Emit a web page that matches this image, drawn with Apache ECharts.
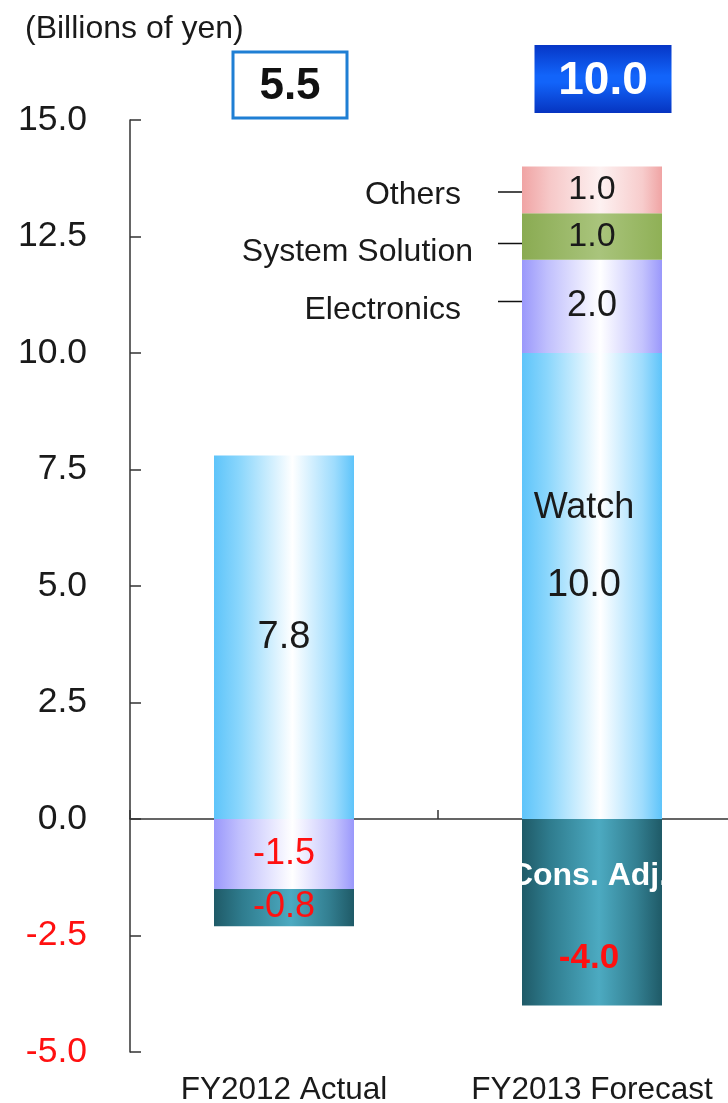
<!DOCTYPE html>
<html>
<head>
<meta charset="utf-8">
<script src="https://cdn.jsdelivr.net/npm/echarts@6/dist/echarts.min.js"></script>
<style>
  html, body { margin: 0; padding: 0; background: #ffffff; }
  #chart { width: 728px; height: 1103px; }
</style>
</head>
<body>
<div id="chart"></div>
<script>
// Operating income by segment (billions of yen)
const categories = ['FY2012 Actual', 'FY2013 Forecast'];
const watch = [7.8, 10.0];
const electronics = [-1.5, 2.0];
const systemSolution = [null, 1.0];
const others = [null, 1.0];
const consAdj = [-0.8, -4.0];

const yMin = -5, yMax = 15, yStep = 2.5;
const unitTitle = '(Billions of yen)';

const FONT = '"Liberation Sans", Arial, Helvetica, sans-serif';
const INK = '#1a1a1a';
const RED = '#ff1010';

const fmt = v => Number(v).toFixed(1);
const hGrad = stops => new echarts.graphic.LinearGradient(0, 0, 1, 0,
  stops.map(([offset, color]) => ({ offset, color })));

// value label: black for positive, red for negative
const valueLabel = size => ({
  show: true,
  position: 'inside',
  fontFamily: FONT,
  formatter: p => (p.value < 0 ? '{neg|' : '{pos|') + fmt(p.value) + '}',
  rich: {
    pos: { color: INK, fontSize: size, fontFamily: FONT },
    neg: { color: RED, fontSize: size, fontFamily: FONT }
  }
});

const chart = echarts.init(document.getElementById('chart'), null, { renderer: 'canvas' });

const barW = 140;

const watchData = watch.map((v, i) => i === 1
  ? { value: v, label: { offset: [-8, -39],
      formatter: p => '{n|Watch}\n{v|' + fmt(p.value) + '}' } }
  : v);

const consData = consAdj.map((v, i) => i === 1
  ? { value: v, label: { offset: [-3, 5],
      formatter: p => '{n|Cons. Adj.}\n{b|' + fmt(p.value) + '}' } }
  : v);

const option = {
  animation: false,
  backgroundColor: '#ffffff',
  title: {
    text: unitTitle,
    left: 20, top: 8,
    textStyle: { fontFamily: FONT, fontSize: 32, fontWeight: 'normal', color: INK }
  },
  grid: { left: 130, top: 120, width: 616, height: 932, containLabel: false, outerBoundsMode: 'none' },
  xAxis: [
    {
      type: 'category', data: categories, position: 'bottom',
      axisLine: { show: false, onZero: false },
      axisTick: { show: false },
      axisLabel: { interval: 0, fontFamily: FONT, fontSize: 31.5, color: INK, margin: 22, hideOverlap: false }
    },
    {
      type: 'category', data: categories, position: 'bottom',
      axisLine: { show: true, onZero: true, lineStyle: { color: '#333', width: 1.5 } },
      axisTick: { show: true, inside: true, length: 9, lineStyle: { color: '#333', width: 1.5 } },
      axisLabel: { show: false }
    }
  ],
  yAxis: {
    type: 'value', min: yMin, max: yMax, interval: yStep,
    axisLine: { show: true, lineStyle: { color: '#333', width: 1.5 } },
    axisTick: { show: true, inside: true, length: 11, lineStyle: { color: '#333', width: 1.5 } },
    splitLine: { show: false },
    axisLabel: {
      margin: 43, fontFamily: FONT, fontSize: 35.5,
      padding: [6, 0, 0, 0],
      color: v => (v < 0 ? RED : INK),
      formatter: v => fmt(v)
    }
  },
  series: [
    {
      name: 'Watch', type: 'bar', stack: 'total', barWidth: barW,
      itemStyle: { color: hGrad([[0, '#5ec4fa'], [0.18, '#8ad6fc'], [0.56, '#ffffff'], [0.86, '#9edcfd'], [1, '#5ec4fa']]) },
      label: {
        show: true, position: 'inside', fontFamily: FONT, fontSize: 38, color: INK,
        formatter: p => fmt(p.value),
        rich: {
          n: { fontFamily: FONT, fontSize: 36, color: INK, lineHeight: 78 },
          v: { fontFamily: FONT, fontSize: 38, color: INK, lineHeight: 78 }
        }
      },
      data: watchData
    },
    {
      name: 'Electronics', type: 'bar', stack: 'total', barWidth: barW,
      itemStyle: { color: hGrad([[0, '#9a98fb'], [0.18, '#c0bffd'], [0.56, '#ffffff'], [0.86, '#c4c3fd'], [1, '#9a98fb']]) },
      label: valueLabel(36),
      data: electronics
    },
    {
      name: 'System Solution', type: 'bar', stack: 'total', barWidth: barW,
      itemStyle: { color: hGrad([[0, '#8aab52'], [0.55, '#a9c47c'], [1, '#8fb056']]) },
      label: valueLabel(34),
      data: systemSolution
    },
    {
      name: 'Others', type: 'bar', stack: 'total', barWidth: barW,
      itemStyle: { color: hGrad([[0, '#f0a4a4'], [0.2, '#f6c8c8'], [0.56, '#fdf1f1'], [0.86, '#f7cccc'], [1, '#f0a4a4']]) },
      label: valueLabel(34),
      data: others
    },
    {
      name: 'Cons. Adj.', type: 'bar', stack: 'total', barWidth: barW,
      itemStyle: { color: hGrad([[0, '#1f5a67'], [0.2, '#2f7c8e'], [0.55, '#4caac1'], [0.82, '#337f91'], [1, '#1f5a67']]) },
      label: {
        show: true, position: 'inside', fontFamily: FONT, fontSize: 36, color: RED,
        formatter: p => fmt(p.value),
        rich: {
          n: { fontFamily: FONT, fontSize: 32, fontWeight: 'bold', color: '#ffffff', lineHeight: 83 },
          b: { fontFamily: FONT, fontSize: 35, fontWeight: 'bold', color: RED, lineHeight: 83 }
        }
      },
      data: consData
    }
  ]
};

chart.setOption(option);

// Totals boxes and segment call-outs, placed from the axes' own scales
const toPx = (ci, v) => chart.convertToPixel({ seriesIndex: 0 }, [ci, v]);
const totals = categories.map((_, i) =>
  [watch, electronics, systemSolution, others, consAdj]
    .reduce((s, arr) => s + (arr[i] || 0), 0));

const graphics = [];

// FY2012 total: outlined box
{
  const cx = toPx(0, 0)[0] + 6;
  const w = 114, h = 66, top = 52;
  graphics.push({ type: 'rect', shape: { x: cx - w / 2, y: top, width: w, height: h },
    style: { fill: '#ffffff', stroke: '#1f7fd4', lineWidth: 3 } });
  graphics.push({ type: 'text', x: cx, y: top + h / 2 + 2,
    style: { text: fmt(totals[0]), font: 'bold 44px ' + FONT, fill: '#111111',
      align: 'center', verticalAlign: 'middle' } });
}
// FY2013 total: filled blue box
{
  const cx = toPx(1, 0)[0] + 11;
  const w = 137, h = 68, top = 45;
  graphics.push({ type: 'rect', shape: { x: cx - w / 2, y: top, width: w, height: h },
    style: { fill: new echarts.graphic.LinearGradient(0, 0, 0, 1, [
      { offset: 0, color: '#0636c6' }, { offset: 0.45, color: '#1264fa' },
      { offset: 0.55, color: '#1264fa' }, { offset: 1, color: '#0634c0' }]) } });
  graphics.push({ type: 'text', x: cx, y: top + h / 2 + 2,
    style: { text: fmt(totals[1]), font: 'bold 46px ' + FONT, fill: '#ffffff',
      align: 'center', verticalAlign: 'middle' } });
}

// Segment names with leader lines for the FY2013 stack
// [name, stack base, segment value, leader-line nudge, text nudge y, text right gap]
{
  const segs = [
    ['Electronics', watch[1], electronics[1], -5, 4, 61],
    ['System Solution', watch[1] + electronics[1], systemSolution[1], 7, 16, 49],
    ['Others', watch[1] + electronics[1] + systemSolution[1], others[1], 2, 5, 61]
  ];
  const barLeft = toPx(1, 0)[0] - barW / 2;
  segs.forEach(([name, base, v, lineDy, textDy, gap]) => {
    const y = toPx(1, base + v / 2)[1];
    graphics.push({ type: 'line', shape: { x1: barLeft - 24, y1: y + lineDy, x2: barLeft + 16, y2: y + lineDy },
      style: { stroke: '#111111', lineWidth: 1.5 } });
    graphics.push({ type: 'text', x: barLeft - gap, y: y + textDy,
      style: { text: name, font: '32px ' + FONT, fill: INK,
        align: 'right', verticalAlign: 'middle' } });
  });
}

chart.setOption({ graphic: graphics });
</script>
</body>
</html>
